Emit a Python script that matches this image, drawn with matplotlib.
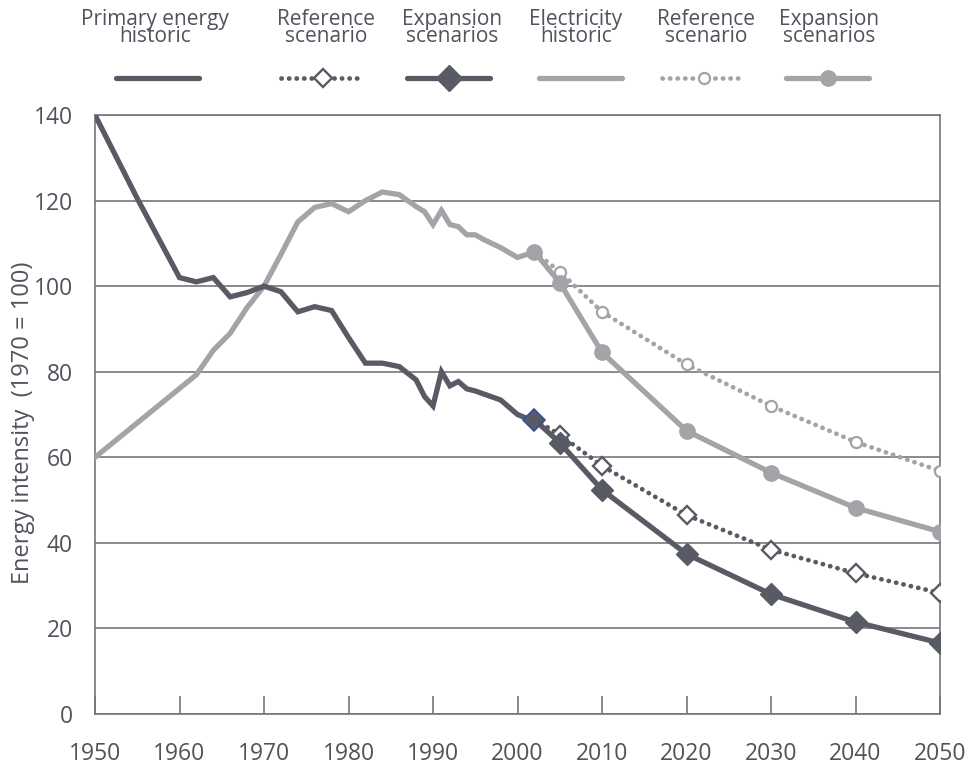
import matplotlib
matplotlib.use("Agg")
import matplotlib.pyplot as plt
from matplotlib.lines import Line2D

# ---------------- data ----------------
prim_years = [1950, 1955, 1960, 1962, 1964, 1966, 1968, 1970, 1972, 1974, 1976, 1978,
              1980, 1982, 1984, 1986, 1988, 1989, 1990, 1991, 1992, 1993, 1994, 1995,
              1998, 2000, 2001, 2002]
prim_hist = [140, 120.5, 102, 101, 102, 97.5, 98.5, 100, 98.7, 94, 95.2, 94.3,
             88, 82, 82, 81.2, 78.1, 74.2, 72, 80, 76.7, 77.7, 76, 75.5,
             73.4, 70, 69.2, 68.8]

elec_years = [1950, 1962, 1964, 1966, 1968, 1970, 1972, 1974, 1976, 1978, 1980, 1982,
              1984, 1986, 1988, 1989, 1990, 1991, 1992, 1993, 1994, 1995, 1996, 1998,
              2000, 2002]
elec_hist = [60, 79.3, 85, 89, 95, 100, 107.4, 115, 118.4, 119.3, 117.4, 120,
             122, 121.4, 118.6, 117.4, 114.4, 117.7, 114.4, 113.9, 112, 112, 110.9, 109,
             106.7, 108]

scen_years = [2002, 2005, 2010, 2020, 2030, 2040, 2050]
prim_ref = [68.8, 65.3, 58, 46.5, 38.4, 32.9, 28.3]
prim_exp = [68.8, 63.4, 52.4, 37.4, 28, 21.5, 16.6]
elec_ref = [108, 103.4, 94, 81.7, 72, 63.6, 56.8]
elec_exp = [108, 100.8, 84.5, 66.2, 56.4, 48.2, 42.6]

x_ticks = [1950, 1960, 1970, 1980, 1990, 2000, 2010, 2020, 2030, 2040, 2050]
y_ticks = [0, 20, 40, 60, 80, 100, 120, 140]
legend_labels = ["Primary energy\nhistoric", "Reference\nscenario", "Expansion\nscenarios",
                 "Electricity\nhistoric", "Reference\nscenario", "Expansion\nscenarios"]
y_label = "Energy intensity  (1970 = 100)"

# ---------------- style ----------------
DARK = "#585a64"
LIGHT = "#a3a3a8"
TEXT = "#50535c"
GRID = "#75757c"
plt.rcParams["font.family"] = ["Open Sans", "DejaVu Sans"]

fig = plt.figure(figsize=(9.76, 7.71), dpi=100)
ax = fig.add_axes([95 / 976, 57 / 771, 845 / 976, 599 / 771])

LW = 3.8
dotted = dict(linestyle=(0, (0.05, 1.55)), dash_capstyle="round", linewidth=3.4)

# historic
ax.plot(elec_years, elec_hist, color=LIGHT, lw=LW, solid_joinstyle="miter", zorder=3)
ax.plot(prim_years, prim_hist, color=DARK, lw=LW, solid_joinstyle="miter", zorder=3)

# reference scenarios (dotted, hollow markers)
ax.plot(scen_years, elec_ref, color=LIGHT, marker="o", ms=8, mfc="white", mec=LIGHT,
        mew=1.6, markevery=list(range(1, len(scen_years))), zorder=4, **dotted)
ax.plot(scen_years, prim_ref, color=DARK, marker="D", ms=9, mfc="white", mec=DARK,
        mew=1.7, markevery=list(range(1, len(scen_years))), zorder=4, **dotted)

# expansion scenarios (solid, filled markers)
ax.plot(scen_years, elec_exp, color=LIGHT, lw=LW, marker="o", ms=11, mfc=LIGHT, mec=LIGHT,
        zorder=5)
ax.plot(scen_years, prim_exp, color=DARK, lw=LW, marker="D", ms=11, mfc=DARK, mec=DARK,
        markevery=list(range(1, len(scen_years))), zorder=5)
ax.plot(scen_years[:1], prim_exp[:1], linestyle="none", marker="D", ms=11, mfc=DARK,
        mec="#34509a", mew=1.2, zorder=6)

# axes
ax.set_xlim(1950, 2050)
ax.set_ylim(0, 140)
ax.set_xticks(x_ticks)
ax.set_yticks(y_ticks)
ax.yaxis.grid(True, color=GRID, lw=1.2)
ax.set_axisbelow(True)
for s in ax.spines.values():
    s.set_color(GRID)
    s.set_linewidth(1.2)
ax.tick_params(axis="x", direction="in", length=13, width=1.2, color=GRID,
               labelsize=16.5, labelcolor=TEXT, pad=20)
ax.tick_params(axis="y", length=0, labelsize=16.5, labelcolor=TEXT, pad=16)
ax.set_ylabel(y_label, fontsize=17, color=TEXT)
ax.yaxis.set_label_coords(-60 / 845, (714 - 423) / 599)

# ---------------- legend (manual, text above samples) ----------------
line_y = 1 - 78 / 771
text_y = 1 - 28 / 771
samples = [
    dict(color=DARK, lw=LW, marker=None),
    dict(color=DARK, marker="D", ms=9, mfc="white", mec=DARK, mew=1.7, **dotted),
    dict(color=DARK, lw=LW, marker="D", ms=13, mfc=DARK, mec=DARK),
    dict(color=LIGHT, lw=LW, marker=None),
    dict(color=LIGHT, marker="o", ms=8, mfc="white", mec=LIGHT, mew=1.6, **dotted),
    dict(color=LIGHT, lw=LW, marker="o", ms=11, mfc=LIGHT, mec=LIGHT),
]
starts = [116, 281, 407, 539, 662, 786]
text_cx = [155, 326, 452, 576, 706, 829]
for lab, st, cx, kw in zip(legend_labels, starts, text_cx, samples):
    x0, x1 = st / 976, (st + 83) / 976
    kw = dict(kw)
    if kw.get("marker"):
        kw["markevery"] = [1]
    ln = Line2D([x0, (x0 + x1) / 2, x1], [line_y] * 3, transform=fig.transFigure,
                solid_capstyle="round", **kw)
    fig.add_artist(ln)
    fig.text(cx / 976, text_y, lab, ha="center", va="center", fontsize=15,
             color=TEXT, linespacing=0.8)

fig.savefig("out.png", dpi=100)
